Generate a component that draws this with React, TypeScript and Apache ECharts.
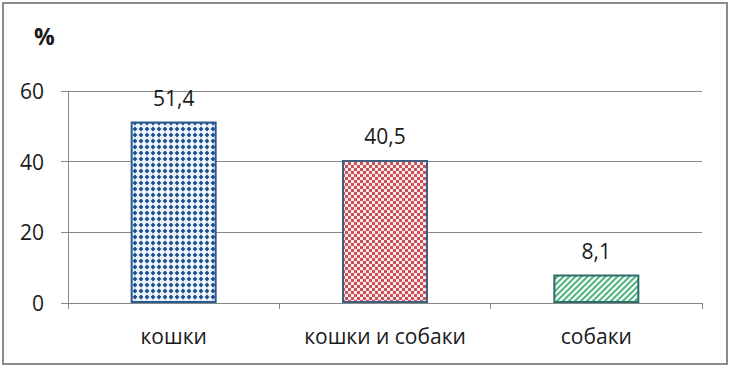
import React, { useEffect, useRef } from "react";
import * as echarts from "echarts";

const categories = ["кошки", "кошки и собаки", "собаки"];
const values = [51.4, 40.5, 8.1];
const yTicks = [0, 20, 40, 60];

function makeTile(kind: string): HTMLCanvasElement {
  const c = document.createElement("canvas");
  const s = 6;
  c.width = s;
  c.height = s;
  const g = c.getContext("2d")!;
  g.fillStyle = "#ffffff";
  g.fillRect(0, 0, s, s);
  if (kind === "dots") {
    g.fillStyle = "#eef4fb";
    g.fillRect(0, 0, s, s);
    g.fillStyle = "#1f4f8a";
    g.beginPath();
    g.moveTo(3, 0.6);
    g.lineTo(5.4, 3);
    g.lineTo(3, 5.4);
    g.lineTo(0.6, 3);
    g.closePath();
    g.fill();
  } else if (kind === "check") {
    g.fillStyle = "#fbeaea";
    g.fillRect(0, 0, s, s);
    g.fillStyle = "#c9505a";
    g.fillRect(0, 0, 3, 3);
    g.fillRect(3, 3, 3, 3);
  } else {
    g.fillStyle = "#f0fbf6";
    g.fillRect(0, 0, s, s);
    g.strokeStyle = "#49ad78";
    g.lineWidth = 1.8;
    g.beginPath();
    g.moveTo(-1, 7);
    g.lineTo(7, -1);
    g.moveTo(-1, 1);
    g.lineTo(1, -1);
    g.moveTo(5, 7);
    g.lineTo(7, 5);
    g.stroke();
  }
  return c;
}

export default function App() {
  const ref = useRef<HTMLDivElement>(null);
  useEffect(() => {
    document.body.style.margin = "0";
    const chart = echarts.init(ref.current!, undefined, { renderer: "svg" });
    const kinds = ["dots", "check", "stripes"];
    const borders = ["#2a5a8e", "#3f5f80", "#2c6e6c"];
    const font = "'Open Sans', sans-serif";
    chart.setOption({
      animation: false,
      backgroundColor: "#ffffff",
      grid: { left: 68, right: 30, top: 91, bottom: 66 },
      graphic: [
        {
          type: "rect",
          shape: { x: 3, y: 3, width: 724, height: 361 },
          style: { fill: "none", stroke: "#8c8c8c", lineWidth: 2 },
          silent: true,
        },
        {
          type: "text",
          left: 34,
          top: 24,
          style: { text: "%", font: "bold 23px " + font, fill: "#1a1a1a" },
        },
      ],
      xAxis: {
        type: "category",
        data: categories,
        axisLine: { show: true, lineStyle: { color: "#888888", width: 1 } },
        axisTick: { show: true, length: 6, lineStyle: { color: "#888888" } },
        axisLabel: {
          interval: 0,
          margin: 22,
          fontSize: 21,
          color: "#1a1a1a",
          fontFamily: font,
        },
      },
      yAxis: {
        type: "value",
        min: yTicks[0],
        max: yTicks[yTicks.length - 1],
        interval: 20,
        axisLine: { show: true, lineStyle: { color: "#888888", width: 1 } },
        axisTick: { show: true, length: 7, lineStyle: { color: "#888888" } },
        splitLine: { show: true, lineStyle: { color: "#888888", width: 1 } },
        axisLabel: { margin: 24, fontSize: 21, color: "#1a1a1a", fontFamily: font },
      },
      series: [
        {
          type: "bar",
          barWidth: 86,
          data: values.map((v, i) => ({
            value: v,
            itemStyle: {
              color: { image: makeTile(kinds[i]), repeat: "repeat" },
              borderColor: borders[i],
              borderWidth: 2,
            },
          })),
          label: {
            show: true,
            position: "top",
            distance: 13,
            fontSize: 21,
            color: "#1a1a1a",
            fontFamily: font,
            formatter: (p: any) => String(p.value).replace(".", ","),
          },
        },
      ],
    });
    return () => chart.dispose();
  }, []);
  return (
    <div
      ref={ref}
      style={{ position: "absolute", left: 0, top: 0, width: 732, height: 369 }}
    />
  );
}
